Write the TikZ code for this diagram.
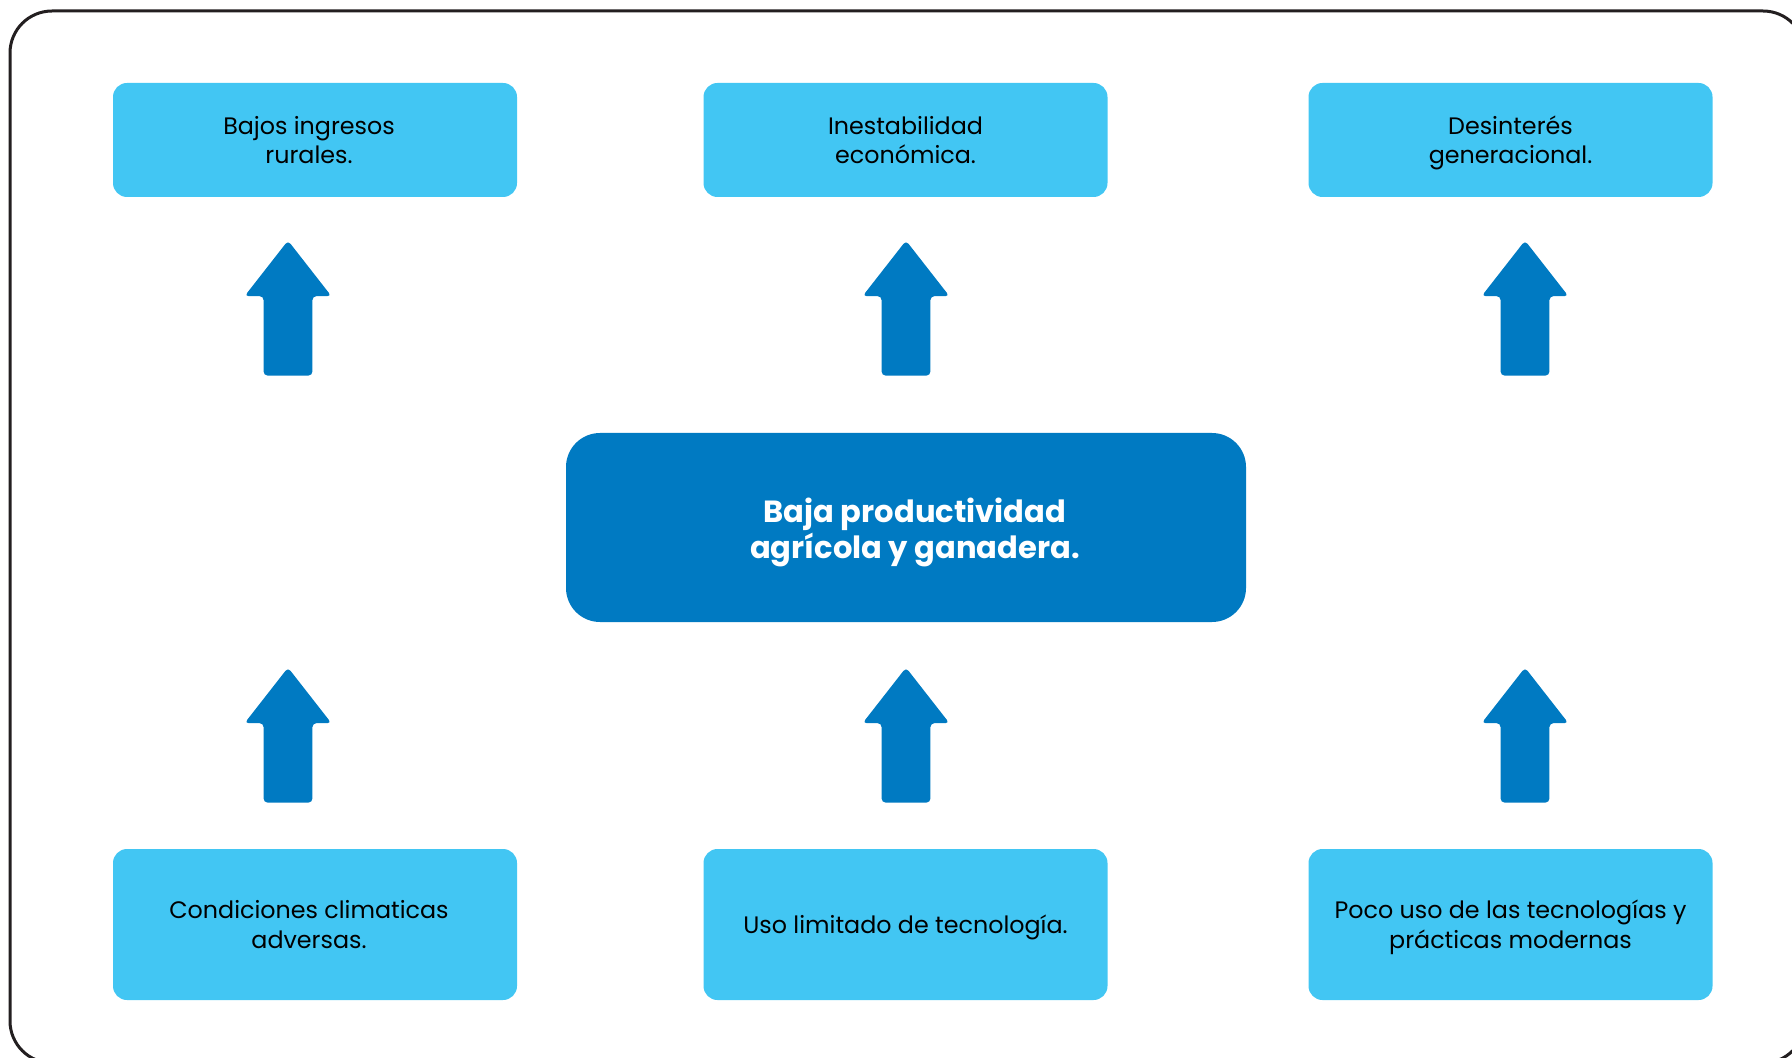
\documentclass[tikz,border=0pt]{standalone}
\usepackage{fontspec}
\setmainfont{Poppins}
\usepackage{tikz}
\usetikzlibrary{arrows.meta,positioning,shapes.arrows}

\definecolor{lightblue}{HTML}{42C6F3}
\definecolor{darkblue}{HTML}{007AC2}
\definecolor{framegray}{HTML}{231F20}

\begin{document}
\begin{tikzpicture}[x=0.5pt, y=-0.5pt,
    effect/.style={fill=lightblue, rounded corners=7pt, minimum width=202pt,
        minimum height=57pt, align=center, font=\fontsize{11.9}{14.9}\selectfont},
    cause/.style={effect, minimum height=75.5pt},
    problem/.style={fill=darkblue, rounded corners=17pt, minimum width=340pt,
        minimum height=94.5pt},
    problemtext/.style={align=center, text=white,
        font=\bfseries\fontsize{15.3}{18.3}\selectfont},
    uparrow/.style={single arrow, fill=darkblue, shape border rotate=90, anchor=tail,
        minimum height=67.5pt, minimum width=43pt, single arrow head extend=9.5pt,
        single arrow tip angle=76, inner sep=12pt, rounded corners=2pt}]
        \useasboundingbox (0, 0) rectangle (1792, 1058);
        \draw[framegray, line width=1.5pt, rounded corners=21pt] (10, 11) rectangle (1805, 1063);

        \node (E1) [effect] at (315, 140) {Bajos ingresos\kern6pt\\rurales.\kern6pt};
        \node (E2) [effect] at (905.5, 140) {Inestabilidad\\económica.};
        \node (E3) [effect] at (1510.5, 140) {Desinter\smash{é}s\\\smash{g}eneracional.};

        \node (P) [problem] at (906, 527.5) {};
        \node (Plabel) [problemtext] at ([xshift=4.5pt, yshift=-2.5pt]P.center)
            {Baja productividad\\agrícola y ganadera.};

        \node (C1) [cause] at (315, 924.5) {Condiciones climaticas\kern6pt\\adversas.\kern6pt};
        \node (C2) [cause, text height=8.5pt, text depth=0pt] at (905.5, 924.5) {Uso limitado de tecnología.};
        \node (C3) [cause] at (1510.5, 924.5) {Poco uso de las tecnolog\smash{í}as y\\\smash{p}rácticas modernas};

        \node (A1) [uparrow] at (288, 376) {};
        \node (A2) [uparrow] at (906, 376) {};
        \node (A3) [uparrow] at (1525, 376) {};
        \node (B1) [uparrow] at (288, 803) {};
        \node (B2) [uparrow] at (906, 803) {};
        \node (B3) [uparrow] at (1525, 803) {};
    \end{tikzpicture}
\end{document}
